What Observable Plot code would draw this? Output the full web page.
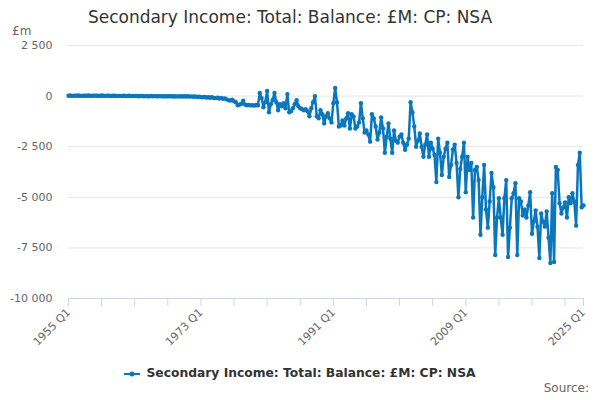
<!DOCTYPE html>
<html><head><meta charset="utf-8">
<script src="https://cdn.jsdelivr.net/npm/d3@7"></script>
<script src="https://cdn.jsdelivr.net/npm/@observablehq/plot@0.6"></script>
<style>
body{margin:0;background:#fff;font-family:"DejaVu Sans",sans-serif}
#wrap{position:relative;width:600px;height:400px;overflow:hidden}
#title{position:absolute;top:7px;left:0;width:580px;text-align:center;font-size:17px;color:#333}
#unit{position:absolute;top:24px;left:12px;font-size:12px;color:#666}
#chart{position:absolute;top:0;left:0}
#legend{position:absolute;top:366px;left:0;width:600px;text-align:center;font-size:12.3px;font-weight:bold;color:#333}
#legend svg{vertical-align:middle;margin-right:6px}
#source{position:absolute;top:381px;right:11px;font-size:12px;color:#666}
</style></head>
<body>
<div id="wrap">
  <div id="chart"></div>
  <div id="title">Secondary Income: Total: Balance: £M: CP: NSA</div>
  <div id="unit">£m</div>
  <div id="legend"></div>
  <div id="source">Source:</div>
</div>
<script>
const seriesName = "Secondary Income: Total: Balance: £M: CP: NSA";
const startYear = 1955;
// Quarterly values (£m), by decade
const values1955s = [20,30,10,25, 15,30,20,10, 25,15,20,30, 10,20,25,15, 20,10,30,15,
                     10,25,15,5, 15,20,5,10, 10,0,15,5, 5,15,0,10, 0,10,-5,5];
const values1965s = [5,-10,0,-5, -5,5,-10,0, -10,-5,0,-15, -5,-15,-10,-5, -10,-20,-5,-15,
                     -15,-5,-20,-10, -20,-10,-25,-15, -30,-15,-40,-25, -50,-60,-40,-70, -60,-80,-50,-90];
const values1975s = [-100,-80,-120,-90, -130,-110,-160,-200, -220,-180,-260,-300, -450,-420,-380,-230, -420,-450,-440,-460,
                     -450,-470,-440,-460, 150,-100,-550,-300, 250,-800,-400,-200, 150,-300,-700,-400, -500,-350,-600,100];
const values1985s = [-800,-750,-600,-400, -200,-500,-600,-650, -700,-650,-750,-1000, -600,-300,0,-1000, -1100,-700,-900,-1350,
                     -1000,-850,-1100,-1300, -350,400,-300,-1500, -1450,-1200,-1450,-1100, -850,-1600,-900,-1000, -1600,-1500,-1300,-350];
const values1995s = [-1100,-1800,-1700,-1900, -2250,-900,-1100,-1500, -2150,-1800,-1050,-1600, -2800,-2000,-1350,-2100, -2800,-1700,-2200,-2300,
                     -2000,-1900,-2300,-2650, -2400,-2100,-300,-800, -1500,-2500,-2200,-1850, -2500,-3000,-2400,-1900, -3000,-2300,-2600,-2900];
const values2005s = [-4250,-2100,-2800,-3900, -3000,-2600,-2300,-4000, -3400,-2650,-2400,-3300, -5000,-3600,-3000,-2300, -4750,-3000,-3650,-3300,
                     -6000,-3650,-3500,-4150, -6850,-5000,-3400,-5600, -6500,-5200,-3800,-4500, -7850,-6000,-5050,-6000, -6850,-5050,-4150,-7950];
const values2015s = [-6500,-5050,-4800,-4300, -7850,-5050,-5200,-5900, -5600,-6000,-5400,-4750, -6800,-6200,-5650,-6450, -8000,-5800,-6200,-6450,
                     -5700,-7000,-8250,-4800, -8200,-3500,-3650,-5300, -5800,-5500,-5250,-6000, -5000,-5300,-4800,-5200, -6400,-3400,-2800,-5500];
const values2025s = [-5400];

const yTicks = [2500, 0, -2500, -5000, -7500, -10000];
const gridValues = [2500, 0, -2500, -5000, -7500];
const labelledTicks = ["1955 Q1", "1973 Q1", "1991 Q1", "2009 Q1", "2025 Q1"];

const values = [].concat(values1955s, values1965s, values1975s, values1985s, values1995s, values2005s, values2015s, values2025s);
const qDate = i => new Date(Date.UTC(startYear + Math.floor(i / 4), (i % 4) * 3, 1));
const qLabel = d => `${d.getUTCFullYear()} Q${Math.floor(d.getUTCMonth() / 3) + 1}`;
const data = values.map((v, i) => ({date: qDate(i), value: v}));
const last = values.length - 1;
// axis ticks every 18 quarters, plus the last quarter
const tickDates = [];
for (let i = 0; i < last; i += 18) tickDates.push(qDate(i));
tickDates.push(qDate(last));

const loc = d3.formatLocale({decimal: ".", thousands: " ", grouping: [3], currency: ["", ""], minus: "-"});
const yFmt = loc.format(",");
const color = "#0a77bd";

const chart = Plot.plot({
  width: 600, height: 400,
  marginTop: 45, marginBottom: 102, marginLeft: 68, marginRight: 17,
  style: {fontFamily: "DejaVu Sans, sans-serif", fontSize: "11px", color: "#666", background: "transparent"},
  x: {type: "utc", domain: [qDate(0), qDate(last)]},
  y: {domain: [-10000, 2500]},
  marks: [
    Plot.gridY(gridValues, {stroke: "#e6e6e6", strokeOpacity: 1}),
    Plot.ruleY([-10000], {stroke: "#ccd6eb"}),
    Plot.axisY(yTicks, {tickSize: 0, tickPadding: 16, tickFormat: yFmt, label: null, fill: "#666"}),
    Plot.axisX(tickDates, {tickSize: 8, tickPadding: 4, stroke: "#ccd6eb", strokeOpacity: 1, fill: "#666",
      tickRotate: -45, label: null,
      tickFormat: d => labelledTicks.includes(qLabel(d)) ? qLabel(d) : ""}),
    Plot.line(data, {x: "date", y: "value", stroke: color, strokeWidth: 2.5}),
    Plot.dot(data, {x: "date", y: "value", r: 2.2, fill: color, stroke: "none"})
  ]
});
document.getElementById("chart").appendChild(chart);

document.getElementById("legend").innerHTML =
  `<svg width="16" height="10"><line x1="0" y1="5" x2="16" y2="5" stroke="${color}" stroke-width="2"/><circle cx="8" cy="5" r="2.5" fill="${color}"/></svg>` +
  `<span>${seriesName}</span>`;
</script>
</body></html>
